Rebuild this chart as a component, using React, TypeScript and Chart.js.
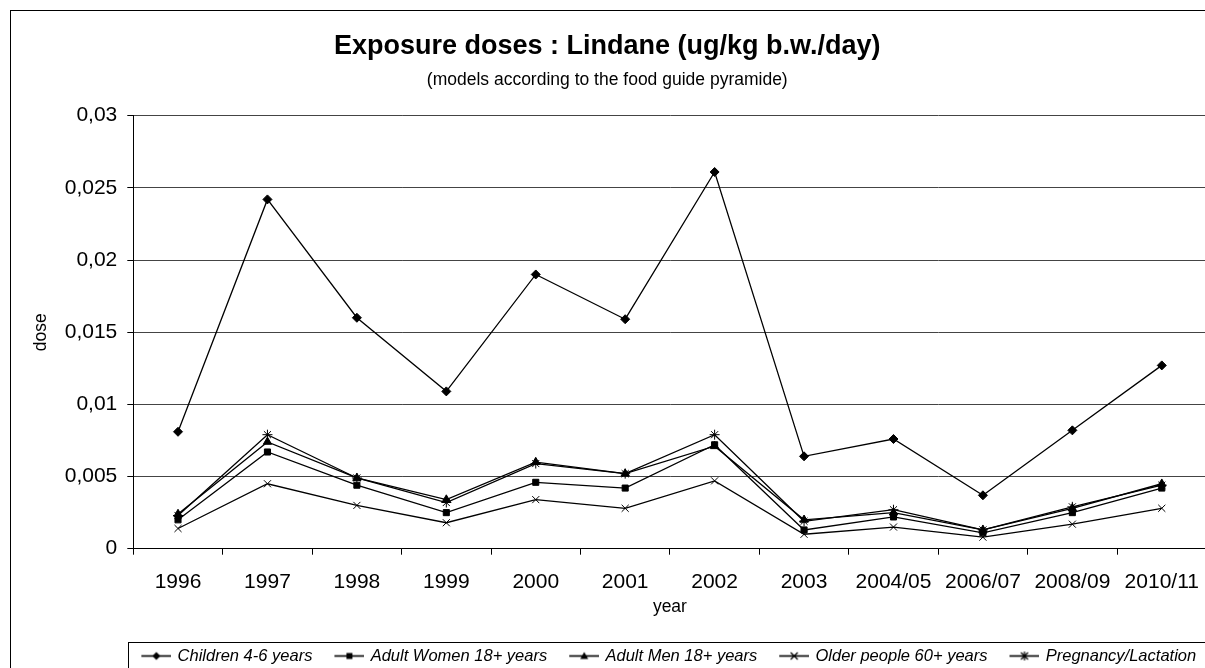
import React, { useEffect, useRef } from 'react';
import { Chart, registerables } from 'chart.js';

Chart.register(...registerables);

const categories = ['1996', '1997', '1998', '1999', '2000', '2001', '2002', '2003', '2004/05', '2006/07', '2008/09', '2010/11'];

const children = [0.0081, 0.0242, 0.016, 0.0109, 0.019, 0.0159, 0.0261, 0.0064, 0.0076, 0.0037, 0.0082, 0.0127];
const women = [0.002, 0.0067, 0.0044, 0.0025, 0.0046, 0.0042, 0.0072, 0.0013, 0.0022, 0.0011, 0.0025, 0.0042];
const men = [0.0024, 0.0074, 0.0049, 0.0034, 0.006, 0.0052, 0.0071, 0.002, 0.0025, 0.0013, 0.0028, 0.0045];
const older = [0.0014, 0.0045, 0.003, 0.0018, 0.0034, 0.0028, 0.0047, 0.001, 0.0015, 0.0008, 0.0017, 0.0028];
const pregnancy = [0.0023, 0.0079, 0.0049, 0.0032, 0.0059, 0.0052, 0.0079, 0.0019, 0.0027, 0.0013, 0.0029, 0.0044];

const seriesNames = ['Children 4-6 years', 'Adult Women 18+ years', 'Adult Men 18+ years', 'Older people 60+ years', 'Pregnancy/Lactation'];
const yTickLabels = ['0', '0,005', '0,01', '0,015', '0,02', '0,025', '0,03'];

const titleText = 'Exposure doses : Lindane (ug/kg b.w./day)';
const subtitleText = '(models according to the food guide pyramide)';
const xTitle = 'year';
const yTitle = 'dose';

const FONT = "'Liberation Sans', Arial, Helvetica, sans-serif";

function makeMarker(style: string): HTMLCanvasElement {
  const c = document.createElement('canvas');
  c.width = 34;
  c.height = 13;
  const g = c.getContext('2d')!;
  g.strokeStyle = '#000';
  g.fillStyle = '#000';
  const cy = 6.5;
  const cx = 19;
  g.lineWidth = 1.6;
  g.beginPath();
  g.moveTo(4, cy);
  g.lineTo(34, cy);
  g.stroke();
  g.lineWidth = 1.2;
  if (style === 'rectRot') {
    g.beginPath();
    g.moveTo(cx, cy - 4);
    g.lineTo(cx + 4, cy);
    g.lineTo(cx, cy + 4);
    g.lineTo(cx - 4, cy);
    g.closePath();
    g.fill();
  } else if (style === 'rect') {
    g.fillRect(cx - 3, cy - 3, 6, 6);
  } else if (style === 'triangle') {
    g.beginPath();
    g.moveTo(cx, cy - 4);
    g.lineTo(cx + 4, cy + 3);
    g.lineTo(cx - 4, cy + 3);
    g.closePath();
    g.fill();
  } else if (style === 'crossRot' || style === 'star') {
    g.beginPath();
    g.moveTo(cx - 3.5, cy - 3.5);
    g.lineTo(cx + 3.5, cy + 3.5);
    g.moveTo(cx + 3.5, cy - 3.5);
    g.lineTo(cx - 3.5, cy + 3.5);
    if (style === 'star') {
      g.moveTo(cx, cy - 4.5);
      g.lineTo(cx, cy + 4.5);
    }
    g.stroke();
  }
  return c;
}

export default function App() {
  const ref = useRef<HTMLCanvasElement>(null);

  useEffect(() => {
    const canvas = ref.current;
    if (!canvas) return;
    Chart.defaults.font.family = FONT;
    Chart.defaults.color = '#000';

    const styles = ['rectRot', 'rect', 'triangle', 'crossRot', 'star'];
    const radii = [4.5, 4.3, 4.8, 5, 5];
    const values = [children, women, men, older, pregnancy];
    const markers = styles.map((s) => makeMarker(s));
    const legendPad = 20;

    const framePlugin = {
      id: 'frames',
      afterLayout(chart: any) {
        const lg = chart.legend;
        if (lg && lg.lineWidths && lg.lineWidths.length) {
          const lw = lg.lineWidths[0];
          const firstX = (lg.left + legendPad + lg.right - lw) / 2;
          const start = firstX + 2;
          const end = firstX + lw - legendPad;
          const dx = 660.75 - (start + end) / 2;
          lg.left += dx;
          lg.right += dx;
        }
      },
      beforeDraw(chart: any) {
        const c = chart.ctx;
        c.save();
        c.fillStyle = '#fff';
        c.fillRect(0, 0, chart.width, chart.height);
        c.restore();
      },
      afterDraw(chart: any) {
        const c = chart.ctx;
        c.save();
        c.strokeStyle = '#000';
        c.lineWidth = 1;
        c.strokeRect(2.5, 2.5, 3000, 3000);
        c.strokeRect(120.5, 634.5, 3000, 300);
        c.restore();
      },
    };

    const chart = new Chart(canvas, {
      type: 'line',
      data: {
        labels: categories,
        datasets: seriesNames.map((name, i) => ({
          label: name,
          data: values[i],
          borderColor: '#000',
          backgroundColor: '#000',
          borderWidth: 1.3,
          pointStyle: styles[i] as any,
          pointRadius: radii[i],
          pointHoverRadius: radii[i],
          pointBackgroundColor: '#000',
          pointBorderColor: '#000',
          pointBorderWidth: 1,
          fill: false,
          tension: 0,
        })),
      },
      options: {
        responsive: false,
        animation: false,
        devicePixelRatio: 1,
        layout: { padding: { left: 0, right: 16.5, top: 0, bottom: 33.75 } },
        plugins: {
          title: {
            display: true,
            text: titleText,
            color: '#000',
            font: { size: 27, weight: 'bold', family: FONT },
            padding: { top: 22.5, bottom: 0 },
          },
          subtitle: {
            display: true,
            text: subtitleText,
            color: '#000',
            font: { size: 17.5, family: FONT },
            padding: { top: 6.3, bottom: 25.5 },
          },
          legend: {
            display: true,
            position: 'bottom',
            fullSize: true,
            labels: {
              usePointStyle: true,
              pointStyleWidth: 30,
              padding: legendPad,
              color: '#000',
              font: { size: 16.5, style: 'italic', family: FONT },
              generateLabels: (ch: any) => {
                const items = Chart.defaults.plugins.legend.labels.generateLabels(ch);
                return items.map((it: any, i: number) => ({ ...it, pointStyle: markers[i] }));
              },
            },
          },
          tooltip: { enabled: false },
        },
        scales: {
          x: {
            type: 'category',
            offset: true,
            grid: { display: true, offset: true, drawOnChartArea: false, tickLength: 6, tickColor: '#000', color: '#000' },
            border: { color: '#000', width: 1 },
            ticks: { font: { size: 21, family: FONT }, color: '#000', padding: 15.4, maxRotation: 0, autoSkip: false },
            title: { display: true, text: xTitle, font: { size: 17.5, family: FONT }, color: '#000', padding: { top: 0, bottom: 10.25 } },
            afterFit: (s: any) => {
              s.height = 79.05;
            },
          },
          y: {
            min: 0,
            max: 0.03,
            grid: { color: '#444', lineWidth: 1, tickLength: 6, tickColor: '#000' },
            border: { color: '#000', width: 1 },
            ticks: {
              stepSize: 0.005,
              font: { size: 21, family: FONT },
              color: '#000',
              padding: 10,
              callback: (v: any) => {
                const idx = Math.round(Number(v) / 0.005);
                return yTickLabels[idx] ?? '';
              },
            },
            title: { display: true, text: yTitle, font: { size: 17.5, family: FONT }, color: '#000', padding: { top: 23, bottom: 0 } },
            afterFit: (s: any) => {
              s.width = 125.3;
            },
          },
        },
      },
      plugins: [framePlugin],
    });

    return () => {
      chart.destroy();
    };
  }, []);

  return (
    <div style={{ position: 'fixed', left: 8, top: 8, width: 1197, height: 660, overflow: 'hidden', background: '#fff' }}>
      <canvas ref={ref} width={1215} height={700} style={{ display: 'block', width: 1215, height: 700 }} />
    </div>
  );
}
